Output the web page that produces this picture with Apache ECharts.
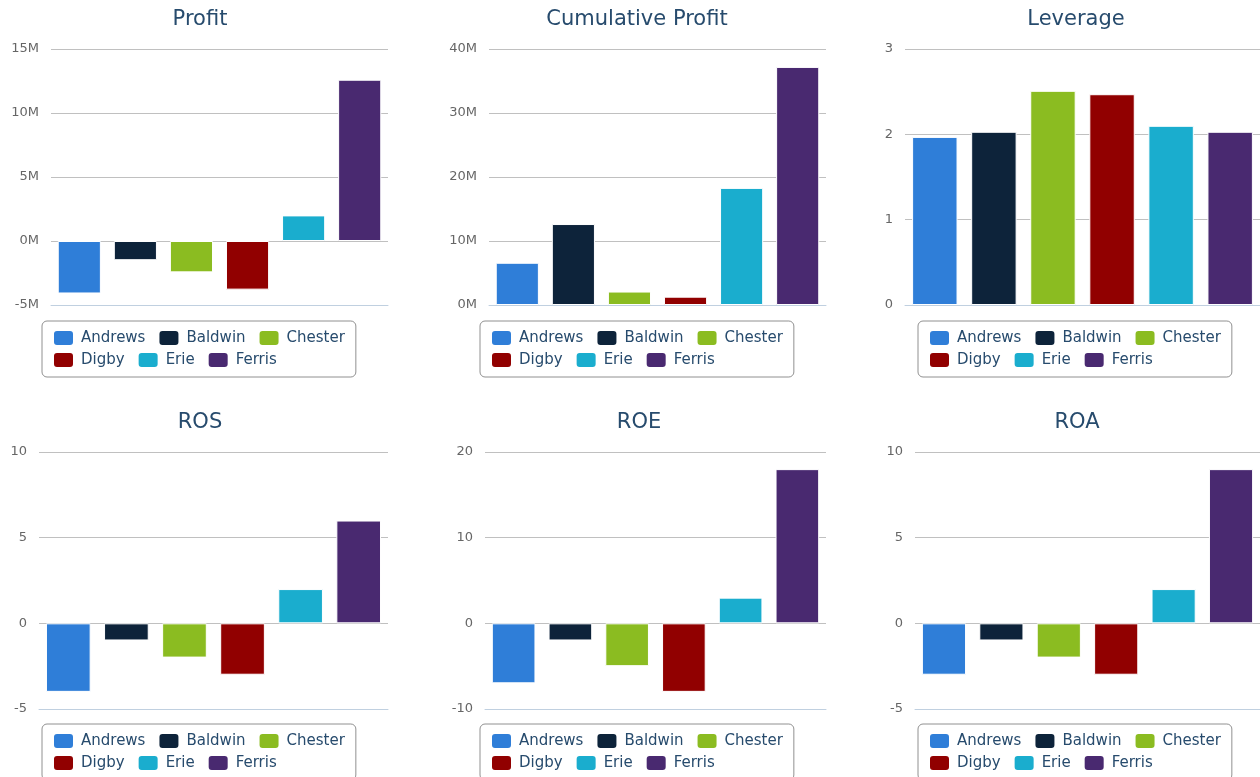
<!DOCTYPE html>
<html>
<head>
<meta charset="utf-8">
<script src="https://cdn.jsdelivr.net/npm/echarts@6/dist/echarts.min.js"></script>
<style>
html,body{margin:0;padding:0;background:#fff;}
#chart{width:1260px;height:777px;}
</style>
</head>
<body>
<div id="chart"></div>
<script>
// ---- data ----
const companies = ['Andrews', 'Baldwin', 'Chester', 'Digby', 'Erie', 'Ferris'];
const companyColors = ['#2f7ed8', '#0d233a', '#8bbc21', '#910000', '#1aadce', '#492970'];
const profit = [-4100000, -1500000, -2450000, -3800000, 2000000, 12600000];
const cumulativeProfit = [6600000, 12650000, 2100000, 1300000, 18300000, 37200000];
const leverage = [1.97, 2.03, 2.51, 2.47, 2.10, 2.03];
const ros = [-4, -1, -2, -3, 2, 6];
const roe = [-7, -2, -5, -8, 3, 18];
const roa = [-3, -1, -2, -3, 2, 9];
const titles = ['Profit', 'Cumulative Profit', 'Leverage', 'ROS', 'ROE', 'ROA'];
const yRanges = [
  {min: -5000000, max: 15000000, interval: 5000000, millions: true},
  {min: 0, max: 40000000, interval: 10000000, millions: true},
  {min: 0, max: 3, interval: 1},
  {min: -5, max: 10, interval: 5},
  {min: -10, max: 20, interval: 10},
  {min: -5, max: 10, interval: 5}
];
const panelData = [profit, cumulativeProfit, leverage, ros, roe, roa];

// ---- layout ----
const layout = [
  {grid: {left: 51, top: 49, width: 337, height: 256}, tx: 200, ty: 9, lx: 42, ly: 321},
  {grid: {left: 489, top: 49, width: 337, height: 256}, tx: 637, ty: 9, lx: 480, ly: 321},
  {grid: {left: 905, top: 49, width: 358, height: 256}, tx: 1076, ty: 9, lx: 918, ly: 321},
  {grid: {left: 39, top: 452, width: 349, height: 257}, tx: 200, ty: 412, lx: 42, ly: 724},
  {grid: {left: 485, top: 452, width: 341, height: 257}, tx: 639, ty: 412, lx: 480, ly: 724},
  {grid: {left: 915, top: 452, width: 349, height: 257}, tx: 1077, ty: 412, lx: 918, ly: 724}
];

const FONT = 'DejaVu Sans';
const option = {
  animation: false,
  backgroundColor: '#fff',
  title: [], grid: [], xAxis: [], yAxis: [], legend: [], series: []
};

layout.forEach((L, i) => {
  option.title.push({
    text: titles[i], left: L.tx, top: L.ty, textAlign: 'center', padding: 0,
    textStyle: {fontFamily: FONT, fontSize: 21, fontWeight: 'normal', color: '#274b6d'}
  });
  option.grid.push(Object.assign({containLabel: false}, L.grid));
  option.xAxis.push({
    type: 'category', gridIndex: i, data: [''],
    axisLine: {show: true, onZero: false, lineStyle: {color: '#C0D0E0', width: 1}},
    axisTick: {show: false}, axisLabel: {show: false}, splitLine: {show: false}
  });
  const r = yRanges[i];
  option.yAxis.push({
    type: 'value', gridIndex: i, min: r.min, max: r.max, interval: r.interval,
    axisLine: {show: false}, axisTick: {show: false},
    splitLine: {show: true, lineStyle: {color: '#C0C0C0', width: 1}},
    axisLabel: {
      margin: 12, fontFamily: FONT, fontSize: 13, color: '#666',
      formatter: r.millions ? (v => (v / 1000000) + 'M') : (v => String(v))
    }
  });
  option.legend.push({
    data: companies, left: L.lx, top: L.ly, width: 318, orient: 'horizontal',
    icon: 'roundRect', itemWidth: 21, itemHeight: 16, itemGap: 4,
    borderColor: '#909090', borderWidth: 1, borderRadius: 5,
    padding: [8, 3, 8, 10], backgroundColor: '#fff',
    textStyle: {fontFamily: FONT, fontSize: 15, color: '#274b6d', lineHeight: 16, padding: [0, 8, 0, 2]}
  });
  companies.forEach((c, k) => {
    option.series.push({
      type: 'bar', name: c, xAxisIndex: i, yAxisIndex: i,
      data: [panelData[i][k]],
      barGap: '30%', barCategoryGap: '4%',
      itemStyle: {color: companyColors[k], borderColor: '#fff', borderWidth: 1},
      emphasis: {disabled: true}
    });
  });
});

const chart = echarts.init(document.getElementById('chart'), null, {renderer: 'canvas'});
chart.setOption(option);
</script>
</body>
</html>
